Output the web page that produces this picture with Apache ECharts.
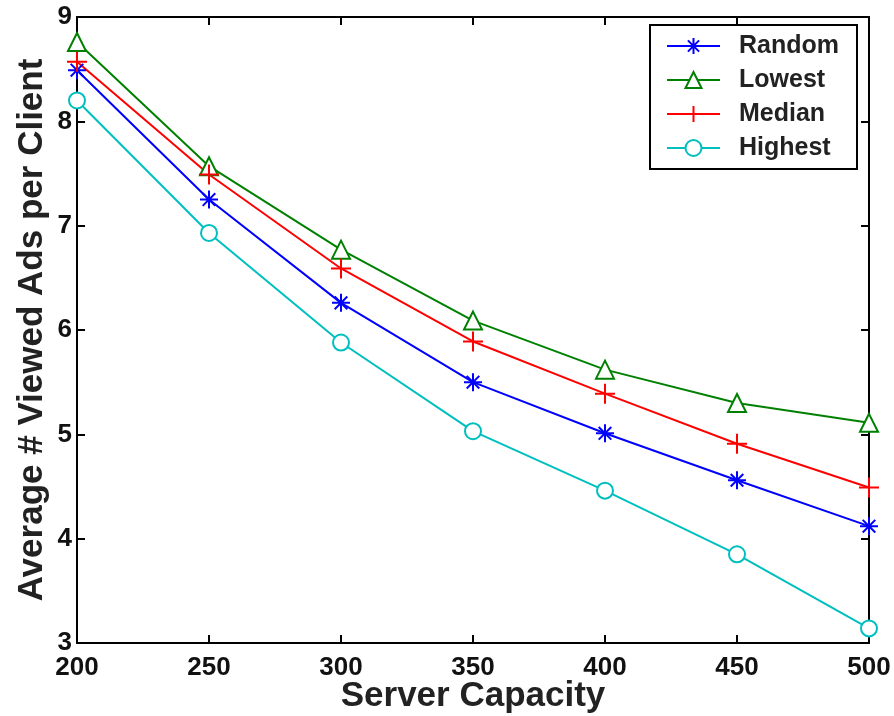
<!DOCTYPE html>
<html>
<head>
<meta charset="utf-8">
<script src="https://cdn.jsdelivr.net/npm/echarts@6/dist/echarts.min.js"></script>
<style>
  html, body { margin: 0; padding: 0; background: #fff; }
  #chart { width: 894px; height: 716px; }
</style>
</head>
<body>
<div id="chart"></div>
<script>
// server capacities on the x axis
var capacity = [200, 250, 300, 350, 400, 450, 500];

// average viewed ads per client
var random_vals  = [8.49, 7.25, 6.26, 5.50, 5.01, 4.56, 4.12];
var lowest_vals  = [8.76, 7.57, 6.77, 6.09, 5.62, 5.30, 5.11];
var median_vals  = [8.57, 7.49, 6.59, 5.89, 5.39, 4.91, 4.49];
var highest_vals = [8.20, 6.93, 5.88, 5.03, 4.46, 3.85, 3.14];

var font = 'Liberation Sans, Arial, sans-serif';

// marker shapes drawn as strokes
var plusPath = 'path://M0,-10L0,10M-10,0L10,0';
var starPath = 'path://M0,-10L0,10M-10,0L10,0M-7,-7L7,7M-7,7L7,-7';

function pairs(vals) {
    return capacity.map(function (c, i) { return [c, vals[i]]; });
}

function makeSeries(name, vals, color, symbol, size) {
    var stroke = (symbol === plusPath || symbol === starPath);
    return {
        name: name,
        type: 'line',
        data: pairs(vals),
        symbol: symbol,
        symbolSize: size,
        showAllSymbol: true,
        lineStyle: { color: color, width: 2 },
        itemStyle: stroke
            ? { color: 'none', borderColor: color, borderWidth: 2 }
            : { color: color, borderColor: color, borderWidth: 1.5 },
        emphasis: { disabled: true },
        animation: false
    };
}

var chart = echarts.init(document.getElementById('chart'));

var axisLine = { show: true, lineStyle: { color: '#000', width: 2 } };
var ticks = { show: true, inside: true, length: 8, lineStyle: { color: '#000', width: 2 } };
var labelStyle = { color: '#111', fontFamily: font, fontWeight: 'bold', fontSize: 26 };

chart.setOption({
    backgroundColor: '#fff',
    grid: { left: 77, right: 25, top: 17, bottom: 73, outerBoundsMode: 'none' },
    legend: {
        left: 650, top: 25,
        orient: 'vertical',
        backgroundColor: '#fff',
        borderColor: '#000', borderWidth: 2, borderRadius: 0,
        padding: [8, 18, 8, 16],
        itemWidth: 53, itemHeight: 20, itemGap: 8,
        textStyle: { fontFamily: font, fontWeight: 'bold', fontSize: 25, lineHeight: 26, color: '#222', padding: [0, 0, 0, 14] },
        data: ['Random', 'Lowest', 'Median', 'Highest']
    },
    xAxis: [{
        type: 'value', min: 200, max: 500, interval: 50,
        name: 'Server Capacity', nameLocation: 'middle', nameGap: 36, nameMoveOverlap: false,
        nameTextStyle: { fontFamily: font, fontWeight: 'bold', fontSize: 35, color: '#222' },
        axisLine: axisLine, axisTick: ticks,
        axisLabel: Object.assign({ margin: 12 }, labelStyle),
        splitLine: { show: false }
    }, {
        type: 'value', min: 200, max: 500, interval: 50, position: 'top',
        axisLine: axisLine, axisTick: ticks, axisLabel: { show: false }, splitLine: { show: false }
    }],
    yAxis: [{
        type: 'value', min: 3, max: 9, interval: 1,
        name: 'Average # Viewed Ads per Client', nameLocation: 'middle', nameGap: 27, nameMoveOverlap: false,
        nameTextStyle: { fontFamily: font, fontWeight: 'bold', fontSize: 35, color: '#222' },
        axisLine: axisLine, axisTick: ticks,
        axisLabel: Object.assign({ margin: 5 }, labelStyle),
        splitLine: { show: false }
    }, {
        type: 'value', min: 3, max: 9, interval: 1, position: 'right',
        axisLine: axisLine, axisTick: ticks, axisLabel: { show: false }, splitLine: { show: false }
    }],
    series: [
        makeSeries('Random', random_vals, '#0000ff', starPath, 18),
        makeSeries('Lowest', lowest_vals, '#008000', 'emptyTriangle', 18),
        makeSeries('Median', median_vals, '#ff0000', plusPath, 20),
        makeSeries('Highest', highest_vals, '#00bfbf', 'emptyCircle', 16)
    ]
});
</script>
</body>
</html>
